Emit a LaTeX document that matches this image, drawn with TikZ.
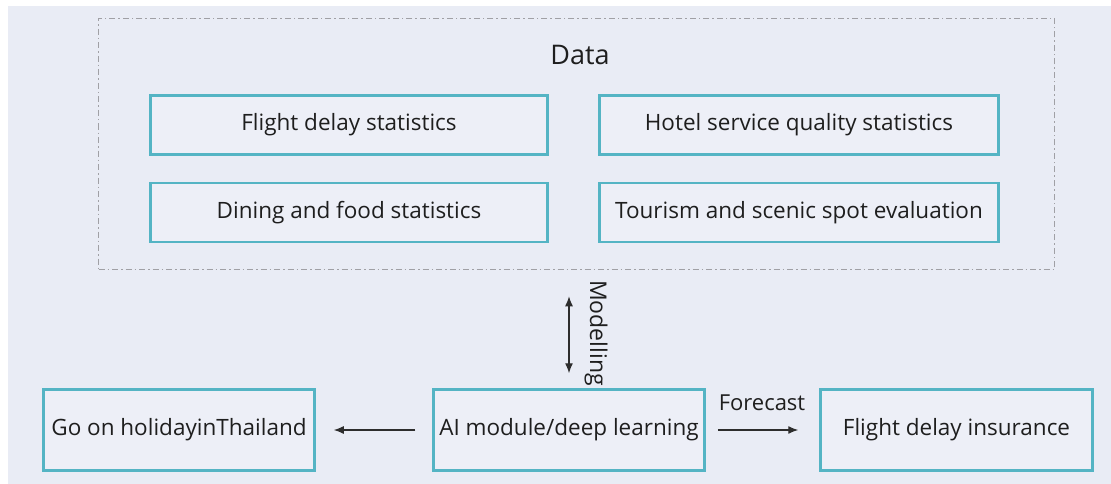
\documentclass[tikz,border=0pt]{standalone}
\usepackage{fontspec}
\setmainfont{Open Sans}
\usetikzlibrary{arrows.meta}
\definecolor{bgcol}{RGB}{233,236,245}
\definecolor{boxcol}{RGB}{84,180,196}
\definecolor{boxfill}{RGB}{237,239,247}
\definecolor{framecol}{RGB}{160,160,165}
\definecolor{arrowcol}{RGB}{45,45,45}
\definecolor{textcol}{RGB}{30,30,30}
\tikzset{
  statbox/.style={thick, shape=rectangle, draw=boxcol, line width=2.5pt, fill=boxfill, text=textcol,
    minimum height=59pt, inner sep=0pt, font=\fontsize{22.5}{27}\selectfont},
  flowbox/.style={statbox, minimum width=271pt, minimum height=81pt},
  flowarrow/.style={draw=arrowcol, line width=1.3pt, -{Latex[length=10pt,width=8pt]}},
}
\begin{document}
\begin{tikzpicture}[x=1pt, y=-1pt]
\useasboundingbox (0,0) rectangle (1111,484);
\fill[bgcol] (8,6) rectangle (1111,484);
% data frame
\node[draw=framecol, line width=1.5pt, dash pattern=on 6pt off 3pt on 1.5pt off 3pt, minimum width=956pt, minimum height=251pt, inner sep=0pt](data) at (576.5,144) {};
\node[text=textcol, font=\fontsize{27}{32}\selectfont](datatitle) at (580,55) {Data};
\node[statbox, minimum width=397pt](flight) at (349,125) {Flight delay statistics};
\node[statbox, minimum width=399pt](hotel) at (799,125) {Hotel service quality statistics};
\node[statbox, minimum width=397pt](dining) at (349,212.5) {Dining and food statistics};
\node[statbox, minimum width=399pt](tourism) at (799,212.5) {Tourism and scenic spot evaluation};
% bottom row
\node[flowbox](holiday) at (179,430) {Go on holidayinThailand};
\node[flowbox](ai) at (569,430) {AI module/deep learning};
\node[flowbox, minimum width=272pt](insurance) at (956.5,430) {Flight delay insurance};
% connectors
\draw[flowarrow, {Latex[length=10pt,width=8pt]}-{Latex[length=10pt,width=8pt]}, shorten <=26pt, shorten >=15pt] (data.south -| ai.north) -- (ai.north);
\node[rotate=-90, text=textcol, font=\fontsize{23}{27}\selectfont](modelling) at (596,333) {Modelling};
\draw[flowarrow, shorten <=17pt, shorten >=18pt] (ai.west) -- (holiday.east);
\draw[flowarrow, shorten <=12pt, shorten >=21pt] (ai.east) -- (insurance.west);
\node[text=textcol, font=\fontsize{22}{26}\selectfont](forecast) at (762,403) {Forecast};
\end{tikzpicture}
\end{document}
